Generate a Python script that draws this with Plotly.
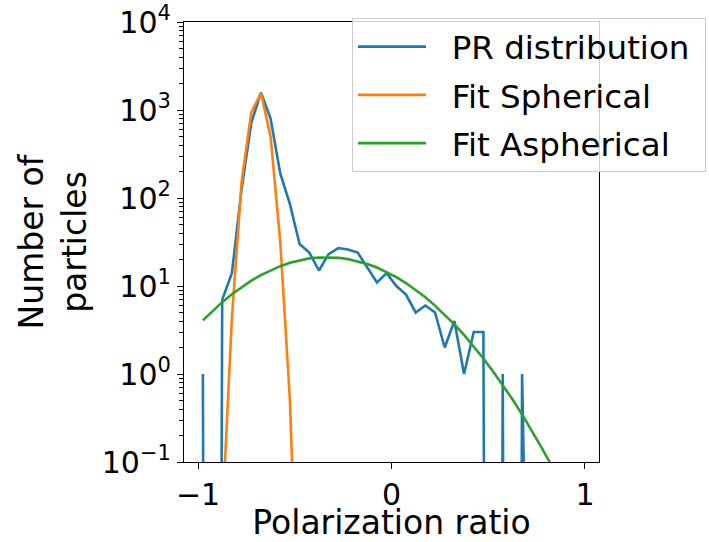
import plotly.graph_objects as go

# ---- data ----
bin_centers = [-0.975, -0.925, -0.875, -0.825, -0.775, -0.725, -0.675, -0.625,
               -0.575, -0.525, -0.475, -0.425, -0.375, -0.325, -0.275, -0.225,
               -0.175, -0.125, -0.075, -0.025, 0.025, 0.075, 0.125, 0.175,
               0.225, 0.275, 0.325, 0.375, 0.425, 0.475, 0.525, 0.575,
               0.625, 0.675, 0.725, 0.775, 0.825, 0.875, 0.925, 0.975]

pr_counts = [1, 0, 7, 14, 125, 710, 1580, 800,
             190, 85, 30, 24, 15, 23, 27, 26,
             24, 16, 11, 14, 10, 8, 5, 6,
             5, 2, 4, 1, 3, 3, 0, 1,
             0, 1, 0, 0, 0, 0, 0, 0]

# Gaussian fit to the narrow (spherical) mode, at the first 13 bin centres
fit_spherical = [1e-8, 3e-5, 0.022, 4.3, 150, 930, 1560, 500,
                 32, 0.5, 0.0015, 1e-6, 1e-10]

# Gaussian fit to the broad (aspherical) mode, at every bin centre
fit_aspherical = [4.07, 5.21, 6.55, 8.06, 9.72, 11.5, 13.3, 15.1,
                  16.8, 18.4, 19.6, 20.6, 21.1, 21.2, 20.9, 20.2,
                  19.1, 17.8, 16.2, 14.4, 12.6, 10.8, 9.04, 7.44,
                  5.99, 4.73, 3.66, 2.78, 2.07, 1.50, 1.07, 0.752,
                  0.516, 0.347, 0.228, 0.147, 0.0932, 0.0578, 0.0351, 0.0209]

series_names = ["PR distribution", "Fit Spherical", "Fit Aspherical"]
series_colors = ["#1f77b4", "#ff7f0e", "#2ca02c"]

x_ticks = [-1, 0, 1]
x_tick_text = ["\u22121", "0", "1"]
y_ticks = [0.1, 1, 10, 100, 1000, 10000]
y_tick_text = ["10<sup>\u22121</sup>", "10<sup>0</sup>", "10<sup>1</sup>",
               "10<sup>2</sup>", "10<sup>3</sup>", "10<sup>4</sup>"]

# log axis: empty bins are clipped far below the axis (as matplotlib does)
CLIP = 1e-30
pr_plot = [c if c > 0 else CLIP for c in pr_counts]

minor_ticks = [m * 10 ** e for e in range(-1, 4) for m in range(2, 10)]

FONT = "DejaVu Sans, Liberation Sans, sans-serif"
PAD = "\u00a0\u00a0"  # gap between legend line and label
TAIL = "\u00a0"        # right padding inside the legend box


def legend_label(name):
    return PAD + name + TAIL


fig = go.Figure()
fig.add_trace(go.Scatter(x=bin_centers, y=pr_plot, mode="lines",
                         name=legend_label(series_names[0]), legendgroup="a",
                         line=dict(color=series_colors[0], width=2.6)))
fig.add_trace(go.Scatter(x=bin_centers[:len(fit_spherical)], y=fit_spherical,
                         mode="lines", name=legend_label(series_names[1]),
                         legendgroup="b",
                         line=dict(color=series_colors[1], width=2.6)))
fig.add_trace(go.Scatter(x=bin_centers, y=fit_aspherical, mode="lines",
                         name=legend_label(series_names[2]), legendgroup="c",
                         line=dict(color=series_colors[2], width=2.6)))

axis_common = dict(showline=True, linecolor="black", linewidth=1.2, mirror=True,
                   showgrid=False, zeroline=False, ticks="outside",
                   tickcolor="black", tickwidth=1.2, ticklen=6,
                   tickfont=dict(family=FONT, size=30, color="black"))

fig.update_layout(
    width=709, height=542,
    margin=dict(l=184, r=110, t=22, b=80, autoexpand=False),
    paper_bgcolor="white", plot_bgcolor="white",
    font=dict(family=FONT, color="black"),
    xaxis=dict(range=[-1.0725, 1.0725], tickmode="array", tickvals=x_ticks,
               ticktext=x_tick_text,
               title=dict(text="Polarization ratio",
                          font=dict(family=FONT, size=33, color="black"),
                          standoff=3),
               **axis_common),
    yaxis=dict(type="log", range=[-1, 4], tickmode="array", tickvals=y_ticks,
               ticktext=y_tick_text,
               minor=dict(ticks="outside", ticklen=3.5, tickcolor="black",
                          tickwidth=1, tickmode="array", tickvals=minor_ticks),
               title=dict(text="Number of<br>particles",
                          font=dict(family=FONT, size=33, color="black"),
                          standoff=5),
               **axis_common),
    legend=dict(x=(352 - 184) / 415, y=1 + 4 / 440, xanchor="left", yanchor="top",
                bgcolor="rgba(255,255,255,0.8)", bordercolor="#cccccc",
                borderwidth=1, font=dict(family=FONT, size=32.5, color="black"),
                itemwidth=68, tracegroupgap=3),
    showlegend=True,
)

fig.write_html("out.html", config={"displayModeBar": False},
               post_script="document.body.style.margin='0';")
